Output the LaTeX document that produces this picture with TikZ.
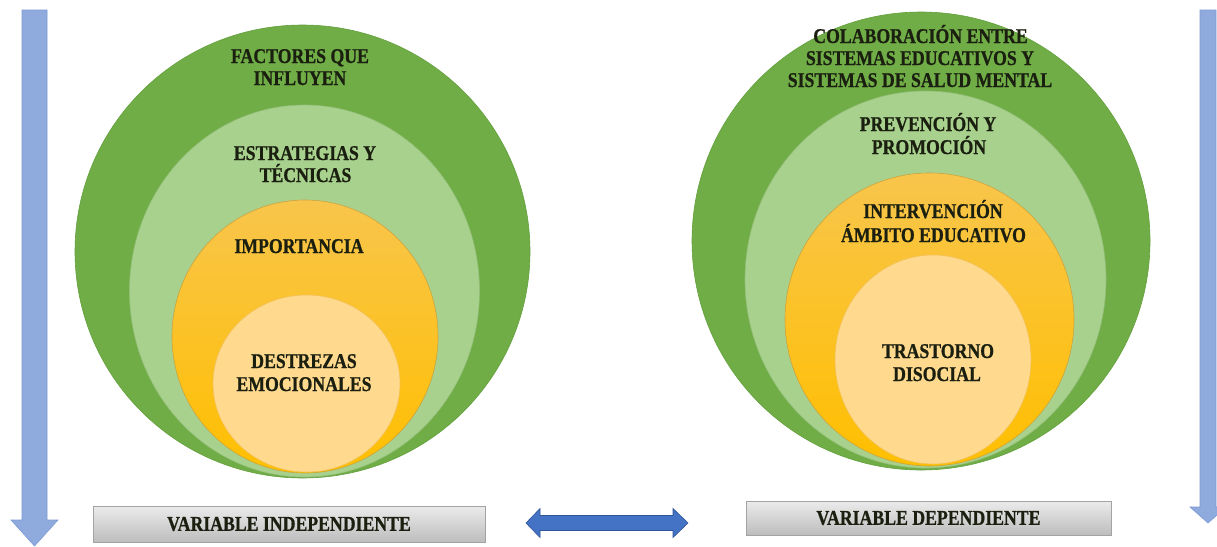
\documentclass[tikz,border=0pt]{standalone}
\usepackage{fontspec}
\setmainfont{Liberation Serif}[FakeStretch=0.845, BoldFeatures={FakeBold=0.8}]
\usetikzlibrary{shapes.geometric}
\definecolor{gOuter}{HTML}{70AD47}
\definecolor{gOuterLine}{HTML}{63A03C}
\definecolor{gLight}{HTML}{A9D18E}
\definecolor{gLightLine}{HTML}{94BF78}
\definecolor{orTop}{HTML}{F8C54C}
\definecolor{orBot}{HTML}{FFBF00}
\definecolor{orLine}{HTML}{C9A441}
\definecolor{orLight}{HTML}{FFD98E}
\definecolor{orLightLine}{HTML}{F2C25A}
\definecolor{txt}{HTML}{1A1F10}
\definecolor{boxTop}{HTML}{EBEBEB}
\definecolor{boxBot}{HTML}{BDBDBD}
\definecolor{boxLine}{HTML}{A3A3A3}
\definecolor{arrLight}{HTML}{8FAADC}
\definecolor{arrLightLine}{HTML}{7C9AD6}
\definecolor{arrDark}{HTML}{4472C4}
\definecolor{arrDarkLine}{HTML}{2F5597}
\begin{document}
\begin{tikzpicture}[x=1pt,y=-1pt,
  ring/.style={ellipse, inner sep=0pt, line width=0.6pt},
  lbl/.style={font=\bfseries\fontsize{21}{22}\selectfont, text=txt, inner sep=0pt, anchor=base},
  varbox/.style={rectangle, draw=boxLine, top color=boxTop, bottom color=boxBot, inner sep=0pt, line width=0.6pt,
    font=\bfseries\fontsize{21}{22}\selectfont, text=txt},
  vArrow/.style={fill=arrLight, draw=arrLightLine, line width=0.6pt},
  hArrow/.style={fill=arrDark, draw=arrDarkLine, line width=0.6pt}]
\useasboundingbox (0,0) rectangle (1217,546);
\clip (0,0) rectangle (1217,546);
\fill[white] (0,0) rectangle (1217,546);

% left vertical arrow
\draw[vArrow] (22,10) -- (47,10) -- (47,520) -- (58,520) -- (34.5,546) -- (11,520) -- (22,520) -- cycle;
% right vertical arrow
\draw[vArrow] (1200,10) -- (1216,10) -- (1216,507) -- (1226,507) -- (1208,523) -- (1190,507) -- (1200,507) -- cycle;

% left nested circles
\node[ring, fill=gOuter, draw=gOuterLine, minimum width=455pt, minimum height=453pt] (L1) at (302.5,251.5) {};
\node[ring, fill=gLight, draw=gLightLine, minimum width=350pt, minimum height=372pt] (L2) at (304.5,291) {};
\node[ring, top color=orTop, bottom color=orBot, draw=orLine, minimum width=266pt, minimum height=273pt] (L3) at (305,336.5) {};
\node[ring, fill=orLight, draw=orLightLine, minimum width=187pt, minimum height=177pt] (L4) at (306.5,383.5) {};

% right nested circles
\node[ring, fill=gOuter, draw=gOuterLine, minimum width=458pt, minimum height=458pt] (R1) at (921,241) {};
\node[ring, fill=gLight, draw=gLightLine, minimum width=361pt, minimum height=377pt] (R2) at (925.5,279.5) {};
\node[ring, top color=orTop, bottom color=orBot, draw=orLine, minimum width=289pt, minimum height=293pt] (R3) at (929.5,319.5) {};
\node[ring, fill=orLight, draw=orLightLine, minimum width=196pt, minimum height=209pt] (R4) at (933,359.5) {};

% left labels
\node[lbl] (l1a) at (300,63) {FACTORES QUE};
\node[lbl] (l1b) at (300,85) {INFLUYEN};
\node[lbl] (l2a) at (305,160) {ESTRATEGIAS Y};
\node[lbl] (l2b) at (305.5,182) {TÉCNICAS};
\node[lbl] (l3) at (299,253) {IMPORTANCIA};
\node[lbl] (l4a) at (304,368) {DESTREZAS};
\node[lbl] (l4b) at (304,391) {EMOCIONALES};

% right labels
\node[lbl] (r1a) at (920.5,43) {COLABORACIÓN ENTRE};
\node[lbl] (r1b) at (920,65) {SISTEMAS EDUCATIVOS Y};
\node[lbl] (r1c) at (920,87) {SISTEMAS DE SALUD MENTAL};
\node[lbl] (r2a) at (928,131) {PREVENCIÓN Y};
\node[lbl] (r2b) at (929,154) {PROMOCIÓN};
\node[lbl] (r3a) at (933,218) {INTERVENCIÓN};
\node[lbl] (r3b) at (933.5,242) {ÁMBITO EDUCATIVO};
\node[lbl] (r4a) at (938,358) {TRASTORNO};
\node[lbl] (r4b) at (937,381) {DISOCIAL};

% bottom boxes
\node[varbox, minimum width=392pt, minimum height=36pt] (vi) at (289,524) {VARIABLE INDEPENDIENTE};
\node[varbox, minimum width=365pt, minimum height=34pt] (vd) at (928.5,518) {VARIABLE DEPENDIENTE};

% double arrow
\draw[hArrow] (526,523) -- (540,508.5) -- (540,515.5) -- (673,515.5) -- (673,508.5) -- (688,523)
  -- (673,537.5) -- (673,530.5) -- (540,530.5) -- (540,537.5) -- cycle;
\end{tikzpicture}
\end{document}
